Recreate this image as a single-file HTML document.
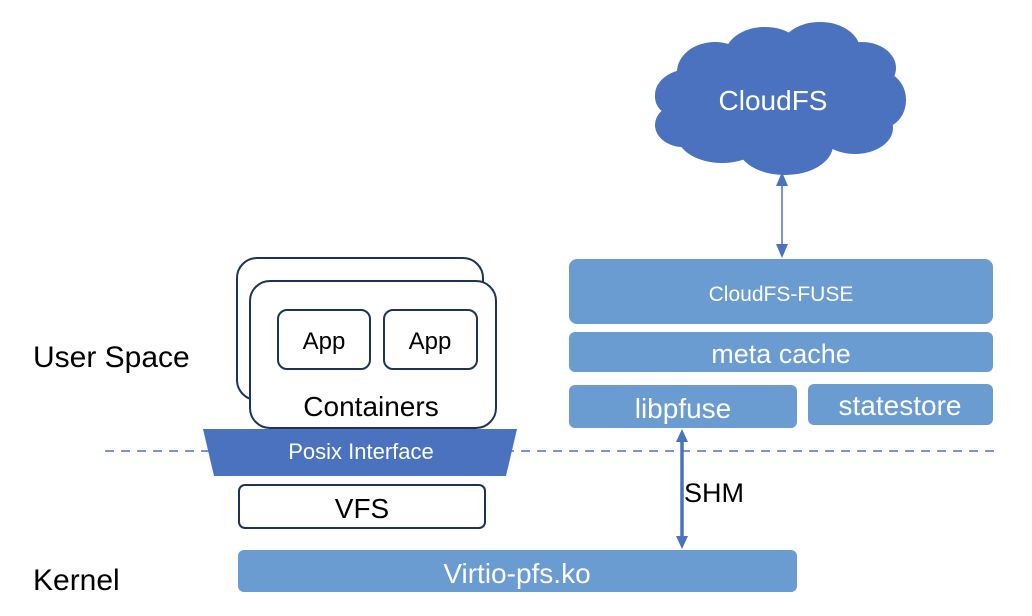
<!DOCTYPE html>
<html><head><meta charset="utf-8"><style>
html,body{margin:0;padding:0;background:#fff;}
svg{display:block;}
text{font-family:"Liberation Sans",sans-serif;}
</style></head><body>
<svg width="1032" height="616" viewBox="0 0 1032 616" xmlns="http://www.w3.org/2000/svg">
<!-- cloud -->
<g fill="#4a72bf">
<ellipse cx="780" cy="100" rx="105" ry="50"/>
<ellipse cx="690" cy="95" rx="35" ry="26"/>
<ellipse cx="715" cy="72" rx="38" ry="30"/>
<ellipse cx="765" cy="55" rx="40" ry="28"/>
<ellipse cx="820" cy="50" rx="40" ry="28"/>
<ellipse cx="862" cy="68" rx="34" ry="26"/>
<ellipse cx="882" cy="100" rx="24" ry="28"/>
<ellipse cx="855" cy="128" rx="38" ry="26"/>
<ellipse cx="785" cy="145" rx="48" ry="30"/>
<ellipse cx="722" cy="135" rx="45" ry="28"/>
<ellipse cx="683" cy="125" rx="28" ry="22"/>
<ellipse cx="673" cy="97" rx="18" ry="18"/>
</g>
<text x="773" y="110" font-size="28" fill="#fff" text-anchor="middle">CloudFS</text>
<line x1="782" y1="180" x2="782" y2="250" stroke="#4a72bf" stroke-width="1.5"/>
<polygon points="782,172 776,186 788,186" fill="#4a72bf"/>
<polygon points="782,258 776,244 788,244" fill="#4a72bf"/>
<!-- right boxes -->
<rect x="569" y="259" width="424" height="65" rx="8" fill="#6a9bd1"/>
<text x="781" y="301" font-size="21" fill="#fff" text-anchor="middle">CloudFS-FUSE</text>
<rect x="569" y="332" width="424" height="40" rx="6" fill="#6a9bd1"/>
<text x="781" y="363" font-size="27" fill="#fff" text-anchor="middle">meta cache</text>
<rect x="569" y="385" width="228" height="43" rx="6" fill="#6a9bd1"/>
<text x="683" y="418" font-size="28" fill="#fff" text-anchor="middle">libpfuse</text>
<rect x="808" y="384" width="185" height="41" rx="6" fill="#6a9bd1"/>
<text x="900" y="415" font-size="28" fill="#fff" text-anchor="middle">statestore</text>
<!-- dashed -->
<line x1="105" y1="451" x2="995" y2="451" stroke="#4a72bf" stroke-width="1.5" stroke-dasharray="9,7"/>
<!-- containers -->
<rect x="237" y="258" width="246" height="142" rx="20" fill="#fff" stroke="#1f3358" stroke-width="2"/>
<rect x="250" y="281" width="246" height="147" rx="20" fill="#fff" stroke="#1f3358" stroke-width="2"/>
<rect x="278" y="310" width="92" height="59" rx="9" fill="#fff" stroke="#1f3358" stroke-width="2"/>
<rect x="384" y="310" width="93" height="59" rx="9" fill="#fff" stroke="#1f3358" stroke-width="2"/>
<text x="324" y="349" font-size="24" text-anchor="middle">App</text>
<text x="430" y="349" font-size="24" text-anchor="middle">App</text>
<text x="371" y="416" font-size="28" text-anchor="middle">Containers</text>
<polygon points="203,429 517,429 506,476 214,476" fill="#4a72bf"/>
<text x="361" y="459" font-size="22" fill="#fff" text-anchor="middle">Posix Interface</text>
<rect x="239" y="485" width="246" height="43" rx="6" fill="#fff" stroke="#1f3358" stroke-width="2"/>
<text x="362" y="518" font-size="28" text-anchor="middle">VFS</text>
<rect x="238" y="550" width="559" height="42" rx="6" fill="#6a9bd1"/>
<text x="517" y="583" font-size="28" fill="#fff" text-anchor="middle">Virtio-pfs.ko</text>
<!-- SHM -->
<line x1="682" y1="438" x2="682" y2="540" stroke="#4a72bf" stroke-width="3.5"/>
<polygon points="682,429 676,442 688,442" fill="#4a72bf"/>
<polygon points="682,549 676,536 688,536" fill="#4a72bf"/>
<text x="684" y="502" font-size="27">SHM</text>
<text x="33" y="367" font-size="30">User Space</text>
<text x="33" y="590" font-size="30">Kernel</text>
</svg>
</body></html>
